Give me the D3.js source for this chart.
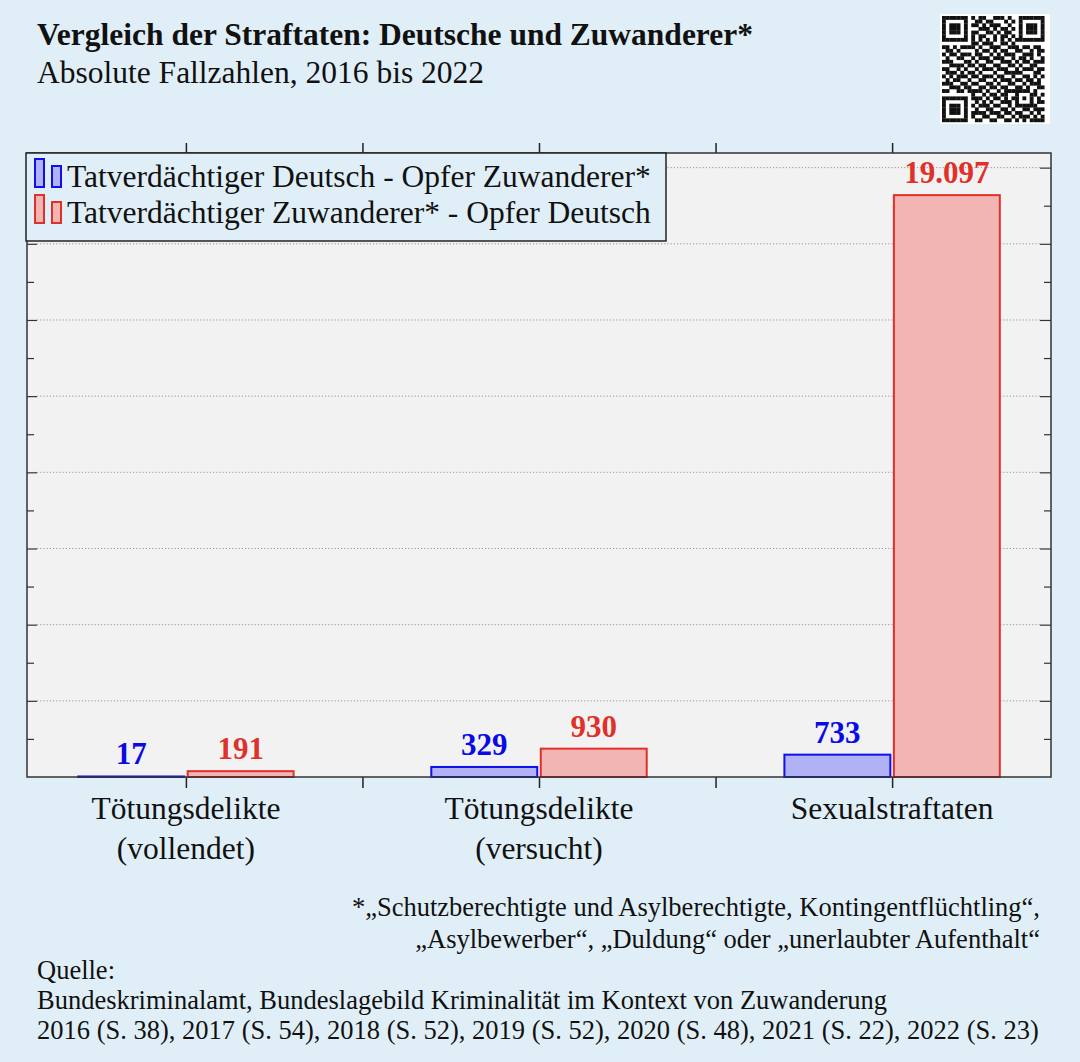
<!DOCTYPE html>
<html><head><meta charset="utf-8">
<script src="https://cdn.jsdelivr.net/npm/d3@7"></script>
<style>
html,body{margin:0;padding:0;background:#e0eff7;}
svg{display:block;font-family:"Liberation Serif","Times New Roman",serif;}
</style></head>
<body>
<svg id="c" width="1080" height="1062"></svg>
<script>
const categories = [["Tötungsdelikte","(vollendet)"],["Tötungsdelikte","(versucht)"],["Sexualstraftaten"]];
const seriesNames = ["Tatverdächtiger Deutsch - Opfer Zuwanderer*","Tatverdächtiger Zuwanderer* - Opfer Deutsch"];
const deutschTaeter = [17, 329, 733];
const zuwandererTaeter = [191, 930, 19097];
const valueLabels = [["17","329","733"],["191","930","19.097"]];
const title = "Vergleich der Straftaten: Deutsche und Zuwanderer*";
const subtitle = "Absolute Fallzahlen, 2016 bis 2022";
const footnote = ["*„Schutzberechtigte und Asylberechtigte, Kontingentflüchtling“,","„Asylbewerber“, „Duldung“ oder „unerlaubter Aufenthalt“"];
const source = ["Quelle:","Bundeskriminalamt, Bundeslagebild Kriminalität im Kontext von Zuwanderung","2016 (S. 38), 2017 (S. 54), 2018 (S. 52), 2019 (S. 52), 2020 (S. 48), 2021 (S. 22), 2022 (S. 23)"];
const qrRows = [
"1111111010110011101001111111",
"1000001001101100010101000001",
"1011101011010111001001011101",
"1011101000111010110101011101",
"1011101011001101011001011101",
"1000001010110010110101000001",
"1111111010101010101011111111",
"0000000011011100110100000000",
"1101011110100111001110110110",
"0110100001011010110011001011",
"1011011101100101011100111010",
"0100110010111011100101101001",
"1110001101001100111010110111",
"0011110110110011001101001100",
"1100101001011101110010111011",
"0111010110100010011111000110",
"1010111011011101100100110101",
"0101100100110010111011011010",
"1110011011001101001100101110",
"0011101100110110110011010011",
"1100110111101001011111110100",
"0000000010010110110010001101",
"1111111011101011010110101010",
"1000001001010100111010001011",
"1011101010111011001011111100",
"1011101001001100110100110111",
"1011101011110111011011001010",
"1000001010011001100101110101",
"1111111001100110011010101111"
];

const blue = {stroke:"#1010ee", fill:"#b1b1f5", text:"#0a0ae6"};
const red = {stroke:"#e0302a", fill:"#f3b4b4", text:"#e0302a"};
const cols = [blue, red];

const svg = d3.select("#c");
const L = 27, R = 1051, T = 153, B = 777;

// Titles
svg.append("text").attr("x",37).attr("y",45).attr("font-size",31.5).attr("font-weight","bold").attr("fill","#111").text(title);
svg.append("text").attr("x",37).attr("y",83).attr("font-size",31.5).attr("fill","#111").text(subtitle);

// QR code
const qrN = qrRows.length, qrX = 942, qrY = 16, qrS = 106/qrN;
svg.append("rect").attr("x",qrX-2).attr("y",qrY-2).attr("width",110).attr("height",110).attr("fill","#fff");
qrRows.forEach((row,r)=>{
  row.split("").forEach((c,k)=>{
    if(c==="1") svg.append("rect").attr("x",qrX+k*qrS).attr("y",qrY+r*qrS).attr("width",qrS+0.2).attr("height",qrS+0.2).attr("fill","#111");
  });
});

// Scales
const x = d3.scaleLinear().domain([0.55,3.45]).range([L,R]);
const y = d3.scaleLinear().domain([0,20480]).range([B,T]);

// plot background
svg.append("rect").attr("x",L).attr("y",T).attr("width",R-L).attr("height",B-T).attr("fill","#f2f2f2");

// grid
const major = d3.range(2500, 20480, 2500);
const minor = d3.range(1250, 20480, 2500);
svg.append("g").selectAll("line").data(major).join("line")
  .attr("x1",L+10).attr("x2",R-10).attr("y1",d=>y(d)).attr("y2",d=>y(d))
  .attr("stroke","#999").attr("stroke-width",1).attr("stroke-dasharray","1.2,2");

// y axes (inward ticks, no labels)
const yAxisL = d3.axisRight(y).tickValues(major).tickSize(10).tickFormat("");
const yAxisLm = d3.axisRight(y).tickValues(minor).tickSize(7).tickFormat("");
const yAxisR = d3.axisLeft(y).tickValues(major).tickSize(11).tickFormat("");
const yAxisRm = d3.axisLeft(y).tickValues(minor).tickSize(7).tickFormat("");
[[yAxisL,L],[yAxisLm,L],[yAxisR,R],[yAxisRm,R]].forEach(([a,px])=>{
  const g = svg.append("g").attr("transform",`translate(${px},0)`).call(a);
  g.select(".domain").remove();
  g.selectAll("line").attr("stroke","#333").attr("stroke-width",1.2);
});

// x ticks top and bottom (outward)
const xt = [1,1.5,2,2.5,3];
const xb = svg.append("g").attr("transform",`translate(0,${B})`).call(d3.axisBottom(x).tickValues(xt).tickSize(11).tickFormat(""));
const xtop = svg.append("g").attr("transform",`translate(0,${T})`).call(d3.axisTop(x).tickValues(xt).tickSize(10).tickFormat(""));
[xb,xtop].forEach(g=>{g.select(".domain").remove(); g.selectAll("line").attr("stroke","#222").attr("stroke-width",1.5);});

// bars
const series = [deutschTaeter, zuwandererTaeter];
const off = [-0.155, 0.155], bw = 0.30;
series.forEach((vals,s)=>{
  const g = svg.append("g");
  g.selectAll("rect").data(vals).join("rect")
    .attr("x",(d,i)=>x(i+1+off[s]-bw/2)).attr("width",x(bw)-x(0))
    .attr("y",d=>y(d)).attr("height",d=>y(0)-y(d))
    .attr("fill",cols[s].fill).attr("stroke",cols[s].stroke).attr("stroke-width",2);
  g.selectAll("text").data(vals).join("text")
    .attr("x",(d,i)=>x(i+1+off[s])).attr("y",d=>y(d)-12)
    .attr("text-anchor","middle").attr("font-size",31).attr("font-weight","bold")
    .attr("fill",cols[s].text).text((d,i)=>valueLabels[s][i]);
});

// frame
svg.append("rect").attr("x",L).attr("y",T).attr("width",R-L).attr("height",B-T)
  .attr("fill","none").attr("stroke","#333").attr("stroke-width",1.5);

// category labels
categories.forEach((lines,i)=>{
  const t = svg.append("text").attr("text-anchor","middle").attr("font-size",31.5).attr("fill","#111");
  lines.forEach((ln,j)=>t.append("tspan").attr("x",x(i+1)).attr("y",819+j*40).text(ln));
});

// legend
const lg = svg.append("g");
lg.append("rect").attr("x",26).attr("y",T).attr("width",640).attr("height",88)
  .attr("fill","#e0eff7").attr("stroke","#222").attr("stroke-width",1.5);
seriesNames.forEach((nm,s)=>{
  const base = 187 + s*36;
  lg.append("rect").attr("x",35).attr("y",base-28).attr("width",9).attr("height",28)
    .attr("fill",cols[s].fill).attr("stroke",cols[s].stroke).attr("stroke-width",2);
  lg.append("rect").attr("x",52).attr("y",base-21).attr("width",9).attr("height",21)
    .attr("fill",cols[s].fill).attr("stroke",cols[s].stroke).attr("stroke-width",2);
  lg.append("text").attr("x",67).attr("y",base).attr("font-size",31.5).attr("fill","#111").text(nm);
});

// footnote
footnote.forEach((ln,j)=>{
  svg.append("text").attr("x",1040).attr("y",916+j*32).attr("text-anchor","end").attr("font-size",26.5).attr("fill","#111").text(ln);
});
source.forEach((ln,j)=>{
  svg.append("text").attr("x",37).attr("y",979+j*30).attr("font-size",26.5).attr("fill","#111").text(ln);
});
</script>
</body></html>
